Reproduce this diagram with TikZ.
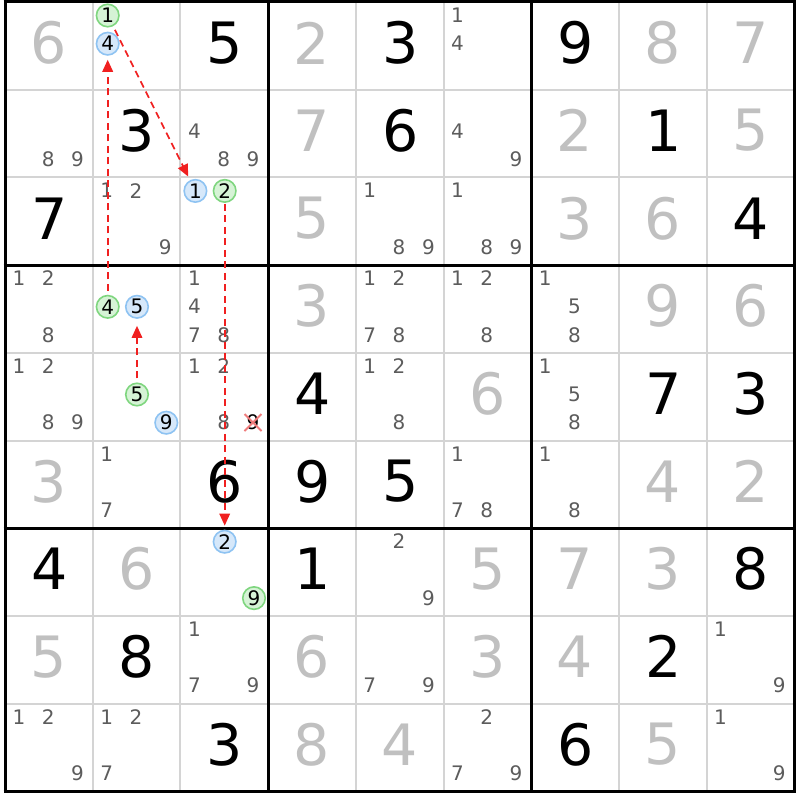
\documentclass[tikz,border=0pt]{standalone}
\usepackage{fontspec}
\setmainfont{DejaVu Sans}
\usetikzlibrary{arrows.meta}
\definecolor{thin}{HTML}{D4D4D4}
\definecolor{solved}{HTML}{C0C0C0}
\definecolor{cand}{HTML}{5C5C5C}
\definecolor{gfill}{HTML}{D6F3D6}
\definecolor{gline}{HTML}{7FD67F}
\definecolor{bfill}{HTML}{D6E8FA}
\definecolor{bline}{HTML}{8EC3F2}
\definecolor{linkred}{HTML}{F02020}
\definecolor{xred}{HTML}{F07C7C}
\tikzset{
  bigdigit/.style={inner sep=0pt, font=\fontsize{57}{57}\selectfont},
  canddigit/.style={inner sep=0pt, text=cand, font=\fontsize{20}{20}\selectfont},
  greenmark/.style={circle, draw=gline, fill=gfill, line width=1.6pt, minimum size=22.5pt, inner sep=0pt, font=\fontsize{20}{20}\selectfont},
  bluemark/.style={circle, draw=bline, fill=bfill, line width=1.6pt, minimum size=22.5pt, inner sep=0pt, font=\fontsize{20}{20}\selectfont},
  link/.style={draw=linkred, line width=1.7pt, dash pattern=on 7pt off 4.5pt, shorten >=4pt, shorten <=4pt, -{Triangle[length=12pt,width=10.5pt]}},
  thinline/.style={draw=thin, line width=2pt},
  thickline/.style={draw=black, line width=3pt},
}
\def\cs{87.7}
\def\ox{5}
\def\oy{2}
\begin{document}
\begin{tikzpicture}[x=1pt,y=-1pt]
\useasboundingbox (0,0) rectangle (800,800);
\fill[white] (0,0) rectangle (800,800);
% thin grid lines
\foreach \i in {1,2,4,5,7,8}{
  \draw[thinline] ({\ox+\i*\cs},\oy) -- ({\ox+\i*\cs},{\oy+9*\cs});
  \draw[thinline] (\ox,{\oy+\i*\cs}) -- ({\ox+9*\cs},{\oy+\i*\cs});
}
% thick grid lines
\foreach \i in {0,3,6,9}{
  \draw[thickline] ({\ox+\i*\cs},{\oy-1.5}) -- ({\ox+\i*\cs},{\oy+9*\cs+1.5});
  \draw[thickline] ({\ox-1.5},{\oy+\i*\cs}) -- ({\ox+9*\cs+1.5},{\oy+\i*\cs});
}
% solved (gray) digits
\foreach \r/\c/\d in {1/1/6,1/4/2,1/8/8,1/9/7,2/4/7,2/7/2,2/9/5,3/4/5,3/7/3,3/8/6,
  4/4/3,4/8/9,4/9/6,5/6/6,6/1/3,6/8/4,6/9/2,7/2/6,7/6/5,7/7/7,7/8/3,
  8/1/5,8/4/6,8/6/3,8/7/4,9/4/8,9/5/4,9/8/5}{
  \pgfmathsetmacro\cx{\ox+(\c-0.5)*\cs}
  \pgfmathsetmacro\cy{\oy+(\r-0.5)*\cs-3}
  \node[bigdigit, text=solved] (s\r\c) at (\cx,\cy) {\d};
}
% given (black) digits
\foreach \r/\c/\d in {1/3/5,1/5/3,1/7/9,2/2/3,2/5/6,2/8/1,3/1/7,3/9/4,
  5/4/4,5/8/7,5/9/3,6/3/6,6/4/9,6/5/5,7/1/4,7/4/1,7/9/8,8/2/8,8/8/2,9/3/3,9/7/6}{
  \pgfmathsetmacro\cx{\ox+(\c-0.5)*\cs+0.5}
  \pgfmathsetmacro\cy{\oy+(\r-0.5)*\cs-3}
  \node[bigdigit, text=black] (g\r\c) at (\cx,\cy) {\d};
}
% plain candidates
\foreach \r/\c/\ds in {1/6/{1,4},2/1/{8,9},2/3/{4,8,9},2/6/{4,9},
  3/2/{1,2,9},3/5/{1,8,9},3/6/{1,8,9},
  4/1/{1,2,8},4/3/{1,4,7,8},4/5/{1,2,7,8},4/6/{1,2,8},4/7/{1,5,8},
  5/1/{1,2,8,9},5/3/{1,2,8},5/5/{1,2,8},5/7/{1,5,8},
  6/2/{1,7},6/6/{1,7,8},6/7/{1,8},7/5/{2,9},
  8/3/{1,7,9},8/5/{7,9},8/9/{1,9},
  9/1/{1,2,9},9/2/{1,2,7},9/6/{2,7,9},9/9/{1,9}}{
  \foreach \d in \ds {
    \pgfmathtruncatemacro\kk{\d-1}
    \pgfmathsetmacro\px{\ox+(\c-1)*\cs+14+mod(\kk,3)*29.3}
    \pgfmathsetmacro\py{\oy+(\r-1)*\cs+13.3+floor(\kk/3)*28.2}
    \node[canddigit] (c\r\c\d) at (\px,\py) {\d};
  }
}
% eliminated candidate
\pgfmathsetmacro\px{\ox+2*\cs+14+2*29.3}
\pgfmathsetmacro\py{\oy+4*\cs+13.3+2*28.2}
\node[canddigit, text=black] (x539) at (\px,\py) {9};
\draw[xred, line width=2pt] ([shift={(-8.5,-8.5)}]x539.center) -- ([shift={(8.5,8.5)}]x539.center)
  ([shift={(-8.5,8.5)}]x539.center) -- ([shift={(8.5,-8.5)}]x539.center);
% marked candidates
\foreach \r/\c/\d/\s in {1/2/1/greenmark,3/3/2/greenmark,4/2/4/greenmark,5/2/5/greenmark,7/3/9/greenmark,
  1/2/4/bluemark,3/3/1/bluemark,4/2/5/bluemark,5/2/9/bluemark,7/3/2/bluemark}{
  \pgfmathtruncatemacro\kk{\d-1}
  \pgfmathsetmacro\px{\ox+(\c-1)*\cs+15+mod(\kk,3)*29.3}
  \pgfmathsetmacro\py{\oy+(\r-1)*\cs+13.5+floor(\kk/3)*28.2}
  \node[\s] (k\r\c\d) at (\px,\py) {\d};
}
% links
\draw[link] (k121) -- (k331);
\draw[link] (k424) -- (k124);
\draw[link, shorten >=7pt] (k525) -- (k425);
\draw[link, shorten <=1pt] (k332) -- (k732);
\end{tikzpicture}
\end{document}
